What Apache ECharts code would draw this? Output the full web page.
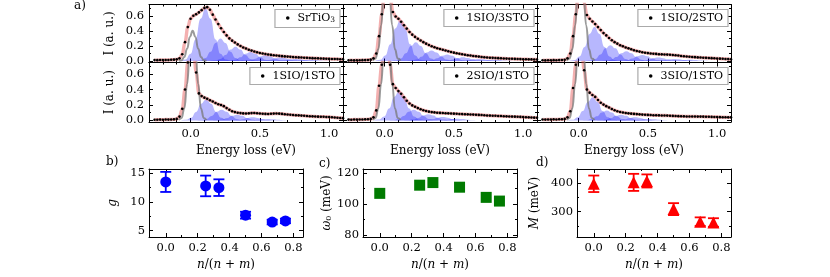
<!DOCTYPE html>
<html><head><meta charset="utf-8">
<script src="https://cdn.jsdelivr.net/npm/echarts@6/dist/echarts.min.js"></script>
<style>html,body{margin:0;padding:0;background:#fff}#c{width:830px;height:277px}</style>
</head><body><div id="c"></div>
<script>
// ---------- DATA ----------
const energy = [-0.26,-0.24,-0.22,-0.20,-0.18,-0.16,-0.14,-0.12,-0.10,-0.08,
  -0.06,-0.04,-0.02,0.00,0.02,0.04,0.06,0.08,0.10,0.12,
  0.14,0.16,0.18,0.20,0.22,0.24,0.26,0.28,0.30,0.32,
  0.34,0.36,0.38,0.40,0.42,0.44,0.46,0.48,0.50,0.52,
  0.54,0.56,0.58,0.60,0.62,0.64,0.66,0.68,0.70,0.72,
  0.74,0.76,0.78,0.80,0.82,0.84,0.86,0.88,0.90,0.92,
  0.94,0.96,0.98,1.00,1.02,1.04,1.06,1.08,1.10];

const sampleNames = ['SrTiO3','1SIO/3STO','1SIO/2STO','1SIO/1STO','2SIO/1STO','3SIO/1STO'];

const intensity_SrTiO3 = [.012,.011,.013,.012,.014,.014,.016,.018,.022,.035,
  .09,.25,.45,.56,.60,.62,.645,.675,.705,.715,
  .68,.615,.55,.49,.435,.385,.34,.30,.27,.245,
  .22,.20,.18,.165,.15,.138,.126,.116,.107,.099,
  .092,.086,.081,.076,.072,.068,.064,.061,.058,.055,
  .052,.05,.048,.046,.044,.042,.04,.038,.036,.035,
  .033,.031,.03,.028,.027,.026,.025,.024,.023];
const intensity_1SIO_3STO = [.008,.009,.008,.01,.009,.011,.012,.014,.018,.035,
  .10,.33,.62,.95,1.05,.85,.65,.59,.56,.52,
  .475,.43,.385,.35,.32,.295,.272,.25,.23,.212,
  .196,.182,.17,.16,.15,.14,.13,.12,.111,.103,
  .096,.09,.083,.077,.072,.067,.062,.058,.054,.05,
  .047,.044,.042,.04,.038,.036,.034,.032,.03,.029,
  .028,.026,.025,.024,.023,.022,.021,.02,.019];
const intensity_1SIO_2STO = [.009,.008,.01,.009,.011,.01,.012,.013,.017,.035,
  .10,.33,.62,.95,1.05,.78,.61,.56,.525,.49,
  .45,.41,.37,.34,.305,.275,.25,.23,.21,.195,
  .18,.168,.155,.143,.133,.125,.117,.11,.105,.10,
  .097,.094,.09,.088,.087,.085,.083,.08,.076,.072,
  .067,.063,.06,.057,.054,.051,.048,.046,.044,.042,
  .04,.038,.036,.034,.031,.029,.027,.025,.024];
const intensity_1SIO_1STO = [.01,.009,.011,.01,.012,.011,.013,.014,.02,.05,
  .15,.40,.75,1.02,1.0,.62,.35,.315,.295,.28,
  .262,.245,.225,.21,.2,.185,.16,.138,.12,.108,
  .1,.095,.091,.09,.092,.095,.097,.094,.09,.087,
  .085,.084,.086,.089,.09,.088,.085,.081,.077,.074,
  .071,.068,.066,.063,.061,.058,.055,.053,.051,.049,
  .048,.047,.045,.044,.041,.038,.035,.032,.03];
const intensity_2SIO_1STO = [.011,.01,.012,.011,.013,.012,.014,.015,.02,.04,
  .13,.45,.72,1.0,1.05,.72,.47,.42,.38,.345,
  .30,.255,.22,.195,.178,.16,.145,.132,.122,.114,
  .108,.104,.10,.098,.096,.094,.092,.09,.088,.086,
  .084,.082,.08,.079,.077,.076,.074,.072,.07,.068,
  .065,.063,.061,.06,.058,.057,.055,.053,.052,.05,
  .049,.047,.046,.044,.042,.04,.038,.036,.035];
const intensity_3SIO_1STO = [.012,.011,.013,.012,.014,.013,.015,.016,.02,.04,
  .12,.42,.72,1.0,1.05,.65,.40,.36,.33,.305,
  .265,.23,.205,.185,.168,.148,.132,.12,.11,.103,
  .097,.092,.088,.085,.082,.079,.076,.074,.072,.07,
  .068,.067,.066,.065,.064,.063,.061,.059,.057,.056,
  .054,.053,.052,.052,.051,.051,.05,.05,.049,.048,
  .047,.046,.045,.044,.043,.042,.041,.04,.04];

// elastic (zero-loss) peak, sampled around its centre
const elasticCenter = 0.015;
const elasticOffsets = [-0.10,-0.08,-0.06,-0.04,-0.02,0,0.02,0.04,0.06,0.08,0.10];
const elastic_SrTiO3 = [0.002,0.011,0.054,0.164,0.320,0.400,0.320,0.164,0.054,0.011,0.002];
const elastic_SIO = [0.005,0.032,0.155,0.472,0.920,1.150,0.920,0.472,0.155,0.032,0.005];

// phonon replica peaks: [centre (eV), sampled heights]
const phononOffsets = [-0.18,-0.144,-0.108,-0.072,-0.036,0,0.036,0.072,0.108,0.144,0.18];
const phonons_SrTiO3 = [
  [0.108,[0.003,0.020,0.095,0.287,0.560,0.700,0.560,0.287,0.095,0.020,0.003]],
  [0.216,[0.001,0.008,0.041,0.123,0.240,0.300,0.240,0.123,0.041,0.008,0.001]],
  [0.324,[0.001,0.005,0.026,0.078,0.152,0.190,0.152,0.078,0.026,0.005,0.001]],
  [0.432,[0,0.003,0.016,0.049,0.096,0.120,0.096,0.049,0.016,0.003,0]],
  [0.540,[0,0.002,0.010,0.031,0.060,0.075,0.060,0.031,0.010,0.002,0]],
  [0.648,[0,0.001,0.006,0.018,0.036,0.045,0.036,0.018,0.006,0.001,0]],
  [0.756,[0,0.001,0.004,0.011,0.022,0.028,0.022,0.011,0.004,0.001,0]],
  [0.864,[0,0,0.002,0.007,0.014,0.017,0.014,0.007,0.002,0,0]]];
const phonons_1SIO_3STO = [
  [0.113,[0.002,0.015,0.073,0.221,0.432,0.540,0.432,0.221,0.073,0.015,0.002]],
  [0.226,[0.001,0.007,0.034,0.103,0.200,0.250,0.200,0.103,0.034,0.007,0.001]],
  [0.339,[0.001,0.004,0.019,0.057,0.112,0.140,0.112,0.057,0.019,0.004,0.001]],
  [0.452,[0,0.002,0.011,0.035,0.068,0.085,0.068,0.035,0.011,0.002,0]],
  [0.565,[0,0.001,0.007,0.021,0.040,0.050,0.040,0.021,0.007,0.001,0]],
  [0.678,[0,0.001,0.004,0.011,0.022,0.028,0.022,0.011,0.004,0.001,0]],
  [0.791,[0,0,0.002,0.006,0.012,0.015,0.012,0.006,0.002,0,0]]];
const phonons_1SIO_2STO = [
  [0.115,[0.002,0.013,0.061,0.185,0.360,0.450,0.360,0.185,0.061,0.013,0.002]],
  [0.230,[0.001,0.006,0.028,0.086,0.168,0.210,0.168,0.086,0.028,0.006,0.001]],
  [0.345,[0.001,0.004,0.018,0.053,0.104,0.130,0.104,0.053,0.018,0.004,0.001]],
  [0.460,[0,0.002,0.011,0.033,0.064,0.080,0.064,0.033,0.011,0.002,0]],
  [0.575,[0,0.001,0.006,0.018,0.036,0.045,0.036,0.018,0.006,0.001,0]],
  [0.690,[0,0.001,0.004,0.011,0.022,0.028,0.022,0.011,0.004,0.001,0]],
  [0.805,[0,0,0.002,0.006,0.012,0.015,0.012,0.006,0.002,0,0]]];
const phonons_1SIO_1STO = [
  [0.112,[0.001,0.008,0.036,0.111,0.216,0.270,0.216,0.111,0.036,0.008,0.001]],
  [0.224,[0.001,0.004,0.019,0.057,0.112,0.140,0.112,0.057,0.019,0.004,0.001]],
  [0.336,[0,0.002,0.010,0.031,0.060,0.075,0.060,0.031,0.010,0.002,0]],
  [0.448,[0,0.001,0.005,0.016,0.032,0.040,0.032,0.016,0.005,0.001,0]],
  [0.560,[0,0.001,0.003,0.008,0.016,0.020,0.016,0.008,0.003,0.001,0]]];
const phonons_2SIO_1STO = [
  [0.105,[0.002,0.011,0.051,0.156,0.304,0.380,0.304,0.156,0.051,0.011,0.002]],
  [0.210,[0.001,0.004,0.019,0.057,0.112,0.140,0.112,0.057,0.019,0.004,0.001]],
  [0.315,[0,0.002,0.011,0.033,0.064,0.080,0.064,0.033,0.011,0.002,0]],
  [0.420,[0,0.001,0.006,0.018,0.036,0.045,0.036,0.018,0.006,0.001,0]],
  [0.525,[0,0.001,0.003,0.009,0.018,0.022,0.018,0.009,0.003,0.001,0]]];
const phonons_3SIO_1STO = [
  [0.102,[0.001,0.008,0.041,0.123,0.240,0.300,0.240,0.123,0.041,0.008,0.001]],
  [0.204,[0.001,0.004,0.018,0.053,0.104,0.130,0.104,0.053,0.018,0.004,0.001]],
  [0.306,[0,0.002,0.010,0.031,0.060,0.075,0.060,0.031,0.010,0.002,0]],
  [0.408,[0,0.001,0.005,0.016,0.032,0.040,0.032,0.016,0.005,0.001,0]],
  [0.510,[0,0.001,0.003,0.008,0.016,0.020,0.016,0.008,0.003,0.001,0]]];

// fitted parameters vs n/(n+m)
const ratio = [0, 0.25, 0.333, 0.5, 0.667, 0.75];
const gValue = [13.5, 12.8, 12.5, 7.7, 6.5, 6.7];
const gError = [1.75, 1.8, 1.45, 0.6, 0.4, 0.4];
const omega0 = [107, 112.3, 114, 111, 104.4, 102];
const mValue = [398, 403, 408, 309, 265, 262];
const mError = [29, 30, 23, 21, 15, 15];

// tick values
const energyTicks = [0, 0.5, 1.0];
const energyMinorTicks = [-0.2,-0.1,0.1,0.2,0.3,0.4,0.6,0.7,0.8,0.9];
const intensityTicks = [0, 0.2, 0.4, 0.6];
const intensityMinorTicks = [0.1, 0.3, 0.5, 0.7];
const ratioTicks = [0, 0.2, 0.4, 0.6, 0.8];
const ratioMinorTicks = [0.1, 0.3, 0.5, 0.7];
const gTicks = [5, 10, 15];
const gMinorTicks = [7.5, 12.5];
const omegaTicks = [80, 100, 120];
const omegaMinorTicks = [90, 110];
const mTicks = [300, 400];
const mMinorTicks = [250, 350];

// ---------- BUILD ----------
const FONT = 'DejaVu Serif';
const grids = [], xAxes = [], yAxes = [], series = [], legends = [];

function tickAxis(gi, min, max, pos, ticks, len, line, label, name, nameGap, rich) {
  return {
    type: 'value', gridIndex: gi, min: min, max: max, position: pos,
    axisLine: {show: line, onZero: false, lineStyle: {color: '#000', width: 1}},
    axisTick: {show: true, inside: true, length: len, customValues: ticks, lineStyle: {color: '#000', width: 1}},
    axisLabel: label ? {show: true, customValues: ticks, formatter: label.fmt, margin: label.margin,
      fontFamily: FONT, fontSize: 11.5, color: '#000'} : {show: false},
    splitLine: {show: false}, minorTick: {show: false},
    name: name || '', nameLocation: 'middle', nameGap: nameGap || 0,
    nameTextStyle: {fontFamily: FONT, fontSize: 12, color: '#000', rich: rich || {}},
    axisPointer: {show: false}, silent: true
  };
}
function addAxes(gi, xr, yr) {
  const xi = xAxes.length, yi = yAxes.length;
  xAxes.push(tickAxis(gi, xr.min, xr.max, 'bottom', xr.major, 4, true, xr.label, xr.name, xr.nameGap, xr.rich));
  xAxes.push(tickAxis(gi, xr.min, xr.max, 'top', xr.major, 4, true, null));
  xAxes.push(tickAxis(gi, xr.min, xr.max, 'bottom', xr.minor, 2, false, null));
  xAxes.push(tickAxis(gi, xr.min, xr.max, 'top', xr.minor, 2, false, null));
  yAxes.push(tickAxis(gi, yr.min, yr.max, 'left', yr.major, 4, true, yr.label, yr.name, yr.nameGap, yr.rich));
  yAxes.push(tickAxis(gi, yr.min, yr.max, 'right', yr.major, 4, true, null));
  yAxes.push(tickAxis(gi, yr.min, yr.max, 'left', yr.minor, 2, false, null));
  yAxes.push(tickAxis(gi, yr.min, yr.max, 'right', yr.minor, 2, false, null));
  return [xi, yi];
}
const fmt1 = v => v.toFixed(1);
const fmt0 = v => String(Math.round(v));

const panels = [
  {name: sampleNames[0], data: intensity_SrTiO3, elastic: elastic_SrTiO3, phonons: phonons_SrTiO3},
  {name: sampleNames[1], data: intensity_1SIO_3STO, elastic: elastic_SIO, phonons: phonons_1SIO_3STO},
  {name: sampleNames[2], data: intensity_1SIO_2STO, elastic: elastic_SIO, phonons: phonons_1SIO_2STO},
  {name: sampleNames[3], data: intensity_1SIO_1STO, elastic: elastic_SIO, phonons: phonons_1SIO_1STO},
  {name: sampleNames[4], data: intensity_2SIO_1STO, elastic: elastic_SIO, phonons: phonons_2SIO_1STO},
  {name: sampleNames[5], data: intensity_3SIO_1STO, elastic: elastic_SIO, phonons: phonons_3SIO_1STO}
];

panels.forEach((p, k) => {
  const col = k % 3, row = Math.floor(k / 3);
  const left = 149 + 194 * col, top = row ? 62.5 : 4.5, height = row ? 59.5 : 58;
  grids.push({left: left, top: top, width: 194, height: height});
  const gi = grids.length - 1;
  const [xi, yi] = addAxes(gi,
    {min: -0.3, max: 1.1, major: energyTicks, minor: energyMinorTicks,
     label: row ? {fmt: fmt1, margin: 6} : null, name: row ? 'Energy loss (eV)' : '', nameGap: 23},
    {min: -0.02, max: 0.75, major: intensityTicks, minor: intensityMinorTicks,
     label: col === 0 ? {fmt: fmt1, margin: 5} : null, name: col === 0 ? 'I (a. u.)' : '', nameGap: 33});
  p.phonons.forEach(ph => {
    series.push({type: 'line', xAxisIndex: xi, yAxisIndex: yi, smooth: true, smoothMonotone: 'x',
      showSymbol: false, silent: true, z: 2,
      lineStyle: {width: 0, opacity: 0},
      areaStyle: {color: 'rgba(10,10,250,0.42)'},
      data: phononOffsets.map((o, i) => [ph[0] + o, ph[1][i]])});
  });
  series.push({type: 'line', name: 'fit' + k, xAxisIndex: xi, yAxisIndex: yi, smooth: 0.4, smoothMonotone: 'x',
    showSymbol: false, silent: true, z: 3,
    lineStyle: {color: 'rgba(230,80,80,0.45)', width: 3.4},
    data: energy.map((e, i) => [e, p.data[i]])});
  series.push({type: 'line', xAxisIndex: xi, yAxisIndex: yi, smooth: true, smoothMonotone: 'x',
    showSymbol: false, silent: true, z: 4,
    lineStyle: {color: 'rgba(120,120,120,0.75)', width: 2},
    data: elasticOffsets.map((o, i) => [elasticCenter + o, p.elastic[i]])});
  series.push({type: 'scatter', name: p.name, xAxisIndex: xi, yAxisIndex: yi, z: 5, silent: true,
    symbol: 'circle', symbolSize: 2.6, itemStyle: {color: '#000', opacity: 1},
    data: energy.map((e, i) => [e, p.data[i]])});
  legends.push({data: [p.name], right: 490 - 194 * col, top: top + 5, orient: 'horizontal',
    icon: 'circle', itemWidth: 3.6, itemHeight: 3.6, selectedMode: false,
    padding: [3, 5, 3, 11], backgroundColor: '#fff', borderColor: '#aaa', borderWidth: 1.2, borderRadius: 0,
    formatter: n => n === 'SrTiO3' ? '{n|SrTiO}{s|3}' : n,
    textStyle: {fontFamily: FONT, fontSize: 11, color: '#000', padding: [0, 0, 0, 3],
      rich: {n: {fontFamily: FONT, fontSize: 11, color: '#000', lineHeight: 13},
             s: {fontFamily: FONT, fontSize: 7.5, color: '#000', verticalAlign: 'bottom', lineHeight: 9}}}});
});

// bottom panels
const italic = {i: {fontFamily: FONT, fontStyle: 'italic', fontSize: 12, color: '#000'},
                s: {fontFamily: FONT, fontSize: 8, color: '#000', verticalAlign: 'bottom', lineHeight: 8}};
function errRenderer(color) {
  return function (params, api) {
    const x = api.value(0);
    const a = api.coord([x, api.value(1)]), b = api.coord([x, api.value(2)]);
    const cap = 5.5, st = {stroke: color, lineWidth: 1.8};
    return {type: 'group', children: [
      {type: 'line', shape: {x1: a[0], y1: a[1], x2: b[0], y2: b[1]}, style: st},
      {type: 'line', shape: {x1: a[0] - cap, y1: a[1], x2: a[0] + cap, y2: a[1]}, style: st},
      {type: 'line', shape: {x1: b[0] - cap, y1: b[1], x2: b[0] + cap, y2: b[1]}, style: st}]};
  };
}
const bottom = [
  {left: 149, y: gValue, err: gError, color: '#0000ff', symbol: 'circle', size: 11,
   yr: {min: 3.9, max: 15.75, major: gTicks, minor: gMinorTicks, label: {fmt: fmt0, margin: 4},
        name: '{i|g}', nameGap: 30, rich: italic}},
  {left: 363, y: omega0, err: null, color: '#007a00', symbol: 'rect', size: 11,
   yr: {min: 78.7, max: 122.8, major: omegaTicks, minor: omegaMinorTicks, label: {fmt: fmt0, margin: 4},
        name: '{i|ω}{s|0} (meV)', nameGap: 28, rich: italic}},
  {left: 577, y: mValue, err: mError, color: '#ff0000', symbol: 'triangle', size: 12,
   yr: {min: 211, max: 450, major: mTicks, minor: mMinorTicks, label: {fmt: fmt0, margin: 4},
        name: '{i|M} (meV)', nameGap: 36, rich: italic}}
];
bottom.forEach(b => {
  grids.push({left: b.left, top: 169, width: 154, height: 68});
  const gi = grids.length - 1;
  const [xi, yi] = addAxes(gi,
    {min: -0.105, max: 0.86, major: ratioTicks, minor: ratioMinorTicks, label: {fmt: fmt1, margin: 5},
     name: '{i|n}/({i|n} + {i|m})', nameGap: 22, rich: italic}, b.yr);
  if (b.err) {
    series.push({type: 'custom', xAxisIndex: xi, yAxisIndex: yi, z: 4, silent: true,
      renderItem: errRenderer(b.color),
      data: ratio.map((r, i) => [r, b.y[i] - b.err[i], b.y[i] + b.err[i]])});
  }
  series.push({type: 'scatter', xAxisIndex: xi, yAxisIndex: yi, z: 5, silent: true,
    symbol: b.symbol, symbolSize: b.size, itemStyle: {color: b.color, opacity: 1},
    data: ratio.map((r, i) => [r, b.y[i]])});
});

const txt = (t, l, tp) => ({type: 'text', left: l, top: tp,
  style: {text: t, font: '12px "DejaVu Serif"', fill: '#000'}});

const chart = echarts.init(document.getElementById('c'), null, {renderer: 'canvas'});
chart.setOption({
  animation: false,
  backgroundColor: '#fff',
  textStyle: {fontFamily: FONT},
  grid: grids, xAxis: xAxes, yAxis: yAxes, series: series, legend: legends,
  graphic: [txt('a)', 74, 0), txt('b)', 106, 156), txt('c)', 319, 158), txt('d)', 536, 157)]
});
</script></body></html>
